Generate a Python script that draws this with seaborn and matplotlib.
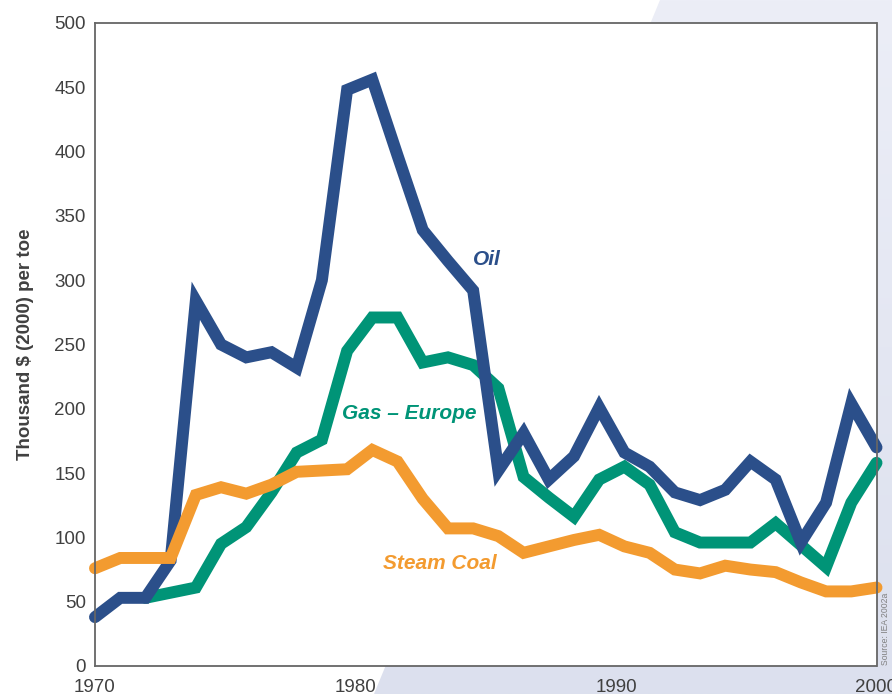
import numpy as np
import pandas as pd
import matplotlib
matplotlib.use("Agg")
import matplotlib.pyplot as plt
from matplotlib.patches import Polygon
from matplotlib.colors import LinearSegmentedColormap
import seaborn as sns

# Annual real prices, thousand 2000 US$ per toe, 1970-2001
years = list(range(1970, 2002))
oil = [38, 53, 53, 82, 284, 250, 240, 244, 232, 300, 448, 456, 397, 339, 315, 292,
       152, 181, 145, 163, 201, 166, 155, 135, 129, 137, 159, 145, 96, 127, 204, 170]
gas_europe = [None, None, 53, 57, 61, 95, 108, 135, 166, 176, 245, 271, 271, 236, 240, 234,
              216, 147, 131, 116, 145, 155, 141, 104, 96, 96, 96, 111, 94, 77, 127, 158]
steam_coal = [76, 84, 84, 84, 133, 139, 134, 141, 151, 152, 153, 168, 159, 130, 107, 107,
              101, 88, 93, 98, 102, 93, 88, 75, 72, 78, 75, 73, 65, 58, 58, 61]

series_names = ["Gas \u2013 Europe", "Oil", "Steam Coal"]
series_colors = ["#009477", "#2B4F8A", "#F39B30"]
y_ticks = list(range(0, 501, 50))
x_ticks = [1970, 1980, 1990, 2000]

# The 32 annual points are spread evenly over the 1970-2000 axis span
pos = np.linspace(1970, 2000, len(years))
frames = []
for name, vals in zip(series_names, [gas_europe, oil, steam_coal]):
    frames.append(pd.DataFrame({"year": years, "pos": pos, "price": vals, "fuel": name}))
df = pd.concat(frames, ignore_index=True).dropna()

sns.set_theme(style="white")
plt.rcParams["font.family"] = ["Liberation Sans", "DejaVu Sans"]

W, H = 892, 694
fig = plt.figure(figsize=(W / 100, H / 100), dpi=100)
fig.patch.set_facecolor("white")

# Lavender backdrop panel with a soft vertical gradient
bg = fig.add_axes([0, 0, 1, 1], zorder=-10)
bg.set_xlim(0, W)
bg.set_ylim(H, 0)
bg.axis("off")
cmap = LinearSegmentedColormap.from_list("lav", ["#ECEEF7", "#DCE0EE"])
im = bg.imshow(np.linspace(0, 1, 256)[:, None], extent=[0, W, H, 0],
               cmap=cmap, aspect="auto")
panel = Polygon([(660, 0), (W, 0), (W, H), (374, H)], closed=True,
                facecolor="none", edgecolor="none", transform=bg.transData)
bg.add_patch(panel)
im.set_clip_path(panel)

ax = fig.add_axes([95 / W, (H - 666) / H, (876.5 - 95) / W, (666 - 23) / H])
ax.set_facecolor("white")

sns.lineplot(data=df, x="pos", y="price", hue="fuel", hue_order=series_names,
             palette=series_colors, linewidth=8.6, sort=False, legend=False,
             ax=ax, estimator=None)
for line in ax.get_lines():
    line.set_solid_capstyle("round")
    line.set_solid_joinstyle("miter")
    line.set_clip_on(False)

ax.set_xlim(1970, 2000)
ax.set_ylim(0, 500)
ax.set_xticks(x_ticks)
ax.set_xticklabels([str(t) for t in x_ticks])
ax.set_yticks(y_ticks)
ax.set_yticklabels([str(t) for t in y_ticks])
ax.set_xlabel("")
ax.set_ylabel("Thousand $ (2000) per toe", fontsize=13.5, fontweight="bold",
              color="#404040", labelpad=15)

ax.tick_params(axis="both", direction="in", length=9.5, width=1.0, color="#777777",
               labelsize=13.5, labelcolor="#404040")
ax.tick_params(axis="x", pad=9.5)
ax.tick_params(axis="y", pad=6.5)
for side in ["left", "right", "top", "bottom"]:
    ax.spines[side].set_visible(True)
    ax.spines[side].set_color("#666666")
    ax.spines[side].set_linewidth(1.3)

label_style = dict(fontsize=15, fontweight="heavy", fontstyle="italic",
                   ha="center", va="center")
ax.text(1985.05, 316, "Oil", color="#2B4F8A", **label_style)
ax.text(1982.05, 196, "Gas \u2013 Europe", color="#009477", **label_style)
ax.text(1983.25, 80, "Steam Coal", color="#F39B30", **label_style)

fig.text(885.5 / W, (H - 665) / H, "Source: IEA 2002a", rotation=90,
         ha="center", va="bottom", fontsize=6.2, color="#808080")

fig.savefig("out.png", dpi=100, facecolor=fig.get_facecolor())
